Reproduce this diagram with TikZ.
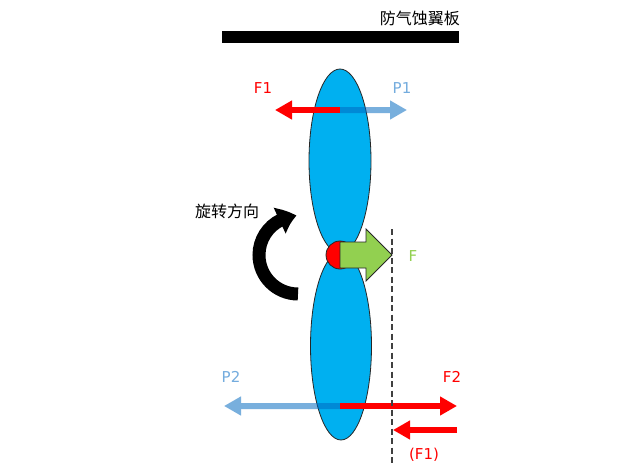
\documentclass[tikz,border=0pt]{standalone}
\usepackage{fontspec}
\setmainfont{DejaVu Sans}
\newfontfamily\cjk{Noto Sans CJK SC}
\usetikzlibrary{arrows.meta,bending,shapes.geometric}
\definecolor{bladeblue}{RGB}{0,176,240}
\definecolor{parrow}{RGB}{0,104,192}
\definecolor{ptext}{RGB}{116,172,222}
\definecolor{fgreen}{RGB}{146,208,80}
\definecolor{fred}{RGB}{255,0,0}
\tikzset{
  blade/.style={draw=black!85,line width=0.8pt,fill=bladeblue},
  redarrow/.style={draw=fred,line width=6pt,-{Triangle[length=17pt,width=18pt]}},
  bluearrow/.style={draw=parrow,line width=6pt,-{Triangle[length=17pt,width=18pt]}},
  lbl/.style={font=\fontsize{15}{15}\selectfont,inner sep=0pt},
  cjklbl/.style={font=\cjk\fontsize{16}{16}\selectfont,inner sep=0pt},
}
\begin{document}
\begin{tikzpicture}[x=1pt,y=-1pt]
\useasboundingbox[fill=white] (0,0) rectangle (632,474);
% guard plate
\fill[black] (222,31) rectangle (459,43);
\node[cjklbl,anchor=east] (plate) at (460,18) {防气蚀翼板};
% blades
\node[blade,ellipse,minimum width=62pt,minimum height=184pt,inner sep=0pt] (upper) at (340,161) {};
\node[blade,ellipse,minimum width=61pt,minimum height=188pt,inner sep=0pt] (lower) at (341,346) {};
% top forces
\coordinate (c1) at (340,110);
\coordinate (f1tip) at (275,110);
\coordinate (p1tip) at (407,110);
\draw[redarrow] (c1) -- (f1tip);
\begin{scope}[transparency group,opacity=0.53]
\draw[bluearrow] (c1) -- (p1tip);
\end{scope}
\node[lbl,text=fred] (f1) at (263,88) {F1};
\node[lbl,text=ptext] (p1) at (402,88) {P1};
% bottom forces
\coordinate (c2) at (340,406);
\coordinate (p2tip) at (224,406);
\coordinate (f2tip) at (457,406);
\coordinate (f1s) at (457,430);
\coordinate (f1e) at (393,430);
\begin{scope}[transparency group,opacity=0.53]
\draw[bluearrow] (c2) -- (p2tip);
\end{scope}
\draw[redarrow] (c2) -- (f2tip);
\draw[redarrow] (f1s) -- (f1e);
\node[lbl,text=ptext] (p2) at (231,377) {P2};
\node[lbl,text=fred] (f2) at (452,377) {F2};
\node[lbl,text=fred] (f1b) at (424,455) {(F1)};
% dashed line
\coordinate (dtop) at (392,229);
\coordinate (dbot) at (392,463);
\draw[black!75,line width=1.3pt,dash pattern=on 6pt off 3.5pt] (dtop) -- (dbot);
% hub
\node[circle,draw=black!85,line width=0.8pt,fill=fred,minimum size=28pt,inner sep=0pt] (hub) at (340,255) {};
% green arrow
\draw[draw=black!85,line width=0.8pt,fill=fgreen,line join=miter]
  (340,242) -- (366,242) -- (366,229) -- (392,255) -- (366,281) -- (366,268) -- (340,268) -- cycle;
\node[lbl,text=fgreen] (flbl) at (413,256) {F};
% rotation arrow
\draw[line width=13pt,-{Triangle[length=18pt,width=27pt,bend]}] (298,294) arc[start angle=90,end angle=268,radius=39];
\node[cjklbl] (rot) at (227,211) {旋转方向};
\end{tikzpicture}
\end{document}
